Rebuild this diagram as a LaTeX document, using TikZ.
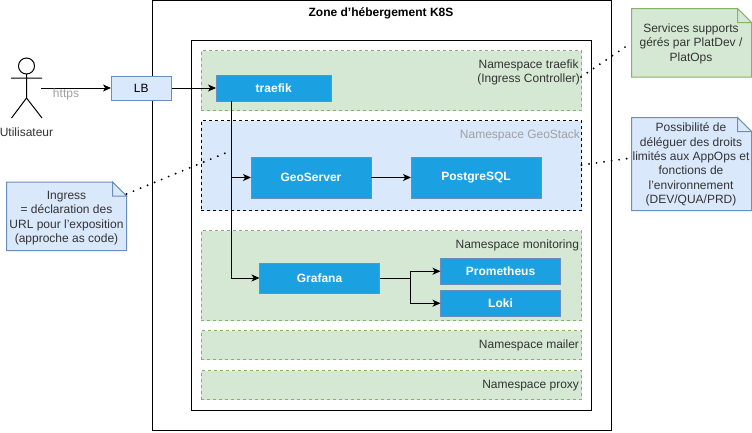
\documentclass[tikz,border=0pt]{standalone}
\usepackage{fontspec}
\setmainfont{Liberation Sans}
\usetikzlibrary{arrows.meta,calc}
\definecolor{nsgreen}{HTML}{D5E8D4}
\definecolor{nsgreenline}{HTML}{82B366}
\definecolor{nsblue}{HTML}{DAE8FC}
\definecolor{nsblueline}{HTML}{6C8EBF}
\definecolor{svc}{HTML}{1BA1E2}
\definecolor{txt}{HTML}{333333}
\definecolor{muted}{HTML}{A0A0A0}
\tikzset{
  every node/.style={font=\fontsize{12}{14.4}\selectfont, inner sep=0pt, outer sep=0pt, align=center, text=txt},
  frame/.style={draw=black, line width=1pt, fill=white, anchor=north west},
  greenns/.style={draw=nsgreenline, fill=nsgreen, line width=0.8pt, dash pattern=on 3pt off 3pt, anchor=north west},
  bluens/.style={draw=black, fill=nsblue, line width=0.8pt, dash pattern=on 3pt off 3pt, anchor=north west},
  svcbox/.style={draw=nsblueline, fill=svc, line width=1pt, text=white, font=\fontsize{12}{14.4}\selectfont\bfseries, anchor=north west},
  lbbox/.style={draw=nsblueline, fill=nsblue, line width=1pt, text=black, anchor=north west},
  nslabel/.style={anchor=east},
  link/.style={draw=black, line width=1pt, -{Stealth[length=8pt,width=7pt,inset=2.2pt]}},
  plainlink/.style={draw=black, line width=1pt},
  dotlink/.style={draw=black, line width=2.1pt, line cap=round, dash pattern=on 0pt off 7.6pt},
  notegreen/.style={draw=nsgreenline, fill=nsgreen, line width=1pt, line join=miter},
  noteblue/.style={draw=nsblueline, fill=nsblue, line width=1pt, line join=miter},
}
% #1 style, #2 top-left, #3 bottom-right
\newcommand{\foldnote}[3]{%
  \path let \p1=(#2), \p2=(#3) in
    coordinate (tmpA) at (\x2-14pt,\y1) coordinate (tmpB) at (\x2,\y1-14pt) coordinate (tmpC) at (\x2,\y2) coordinate (tmpD) at (\x1,\y2) coordinate (tmpE) at (\x2-14pt,\y1-14pt);
  \draw[#1] (#2) -- (tmpA) -- (tmpB) -- (tmpC) -- (tmpD) -- cycle;
  \draw[#1] (tmpA) -- (tmpE) -- (tmpB) -- cycle;
}
\begin{document}
\begin{tikzpicture}[x=1pt,y=-1pt]
\useasboundingbox[fill=white] (0,0) rectangle (752,432);

% frames
\node[frame, minimum width=459pt, minimum height=430pt] (zone) at (152,0.5) {};
\node[font=\fontsize{12}{14.4}\selectfont\bfseries, text=black] (zonelabel) at (381,13.5) {Zone d'hébergement K8S};
\node[frame, minimum width=400pt, minimum height=369.5pt] (cluster) at (191.5,40.5) {};

% namespaces
\node[greenns, minimum width=380.5pt, minimum height=60pt] (nstraefik) at (201,50.5) {};
\node[bluens, minimum width=380.5pt, minimum height=90pt] (nsgeo) at (201,120.5) {};
\node[greenns, minimum width=380.5pt, minimum height=90pt] (nsmon) at (201,230.5) {};
\node[greenns, minimum width=380.5pt, minimum height=29pt] (nsmail) at (201,330.5) {};
\node[greenns, minimum width=380.5pt, minimum height=29pt] (nsproxy) at (201,370.5) {};

\node[nslabel] (ltraefik) at (580,72.5) {Namespace traefik\\(Ingress Controller)};
\node[nslabel, text=muted] (lgeo) at (580,135) {Namespace GeoStack};
\node[nslabel] (lmon) at (579,245) {Namespace monitoring};
\node[nslabel] (lmail) at (579,345.5) {Namespace mailer};
\node[nslabel] (lproxy) at (579,385.5) {Namespace proxy};

% services
\node[lbbox, minimum width=60.5pt, minimum height=24pt] (lb) at (111,76) {LB};
\node[svcbox, minimum width=115.5pt, minimum height=26pt] (traefik) at (216,75) {traefik};
\node[svcbox, minimum width=120pt, minimum height=41pt] (geoserver) at (251,157) {GeoServer};
\node[svcbox, minimum width=130pt, minimum height=41pt] (postgres) at (411,157) {PostgreSQL};
\node[svcbox, minimum width=120pt, minimum height=30pt] (grafana) at (259.5,263) {Grafana};
\node[svcbox, minimum width=120pt, minimum height=25.5pt] (prom) at (440.5,258.5) {Prometheus};
\node[svcbox, minimum width=120pt, minimum height=25.5pt] (loki) at (440.5,290.5) {Loki};

% actor
\draw[black, line width=1pt] (26.5,66) circle (8pt);
\draw[black, line width=1pt] (26.5,74) -- (26.5,98) (11,78) -- (42,78) (11.5,118) -- (26.5,98) -- (42,118);
\coordinate (actor) at (41,88);
\node (lactor) at (26.5,132) {Utilisateur};

% connectors
\draw[link] (actor) -- (lb.west);
\node[text=muted] (lhttps) at (66,94) {https};
\draw[link] (lb.east) -- (lb.east -| traefik.west);
\coordinate (trunk) at (231.5,101);
\coordinate (geobranch) at (231.5,177.5);
\draw[link] (trunk) -- (trunk |- grafana.west) -- (grafana.west);
\draw[link] (geobranch) -- (geoserver.west);
\draw[link] (geoserver.east) -- (postgres.west);
\coordinate (fork) at (410.5,278.5);
\draw[plainlink] (grafana.east |- fork) -- (fork);
\draw[link] (fork) -- (fork |- prom.west) -- (prom.west);
\draw[link] (fork) -- (fork |- loki.west) -- (loki.west);

% notes
\coordinate (inTL) at (6.5,182); \coordinate (inBR) at (126.5,250.5);
\foldnote{noteblue}{inTL}{inBR}
\node (ingress) at (66.5,218) {Ingress\\= déclaration des\\URL pour l'exposition\\(approche as code)};
\coordinate (svTL) at (631.5,8.5); \coordinate (svBR) at (751.5,77);
\foldnote{notegreen}{svTL}{svBR}
\node (support) at (691,43.5) {Services supports\\gérés par PlatDev /\\PlatOps};
\coordinate (poTL) at (631.5,117.5); \coordinate (poBR) at (751.5,210.5);
\foldnote{noteblue}{poTL}{poBR}
\node (possible) at (691,164.5) {Possibilité de\\déléguer des droits\\limités aux AppOps et\\fonctions de\\l'environnement\\(DEV/QUA/PRD)};

\coordinate (dotA) at (126.5,194);
\coordinate (dotB) at (231.5,150.5);
\draw[dotlink] (dotA) -- (dotB);
\coordinate (dotC) at (581,77);
\coordinate (dotD) at (631,43);
\draw[dotlink] (dotC) -- (dotD);
\coordinate (dotE) at (581.5,165);
\coordinate (dotF) at (631,158);
\draw[dotlink] (dotE) -- (dotF);
\end{tikzpicture}
\end{document}
